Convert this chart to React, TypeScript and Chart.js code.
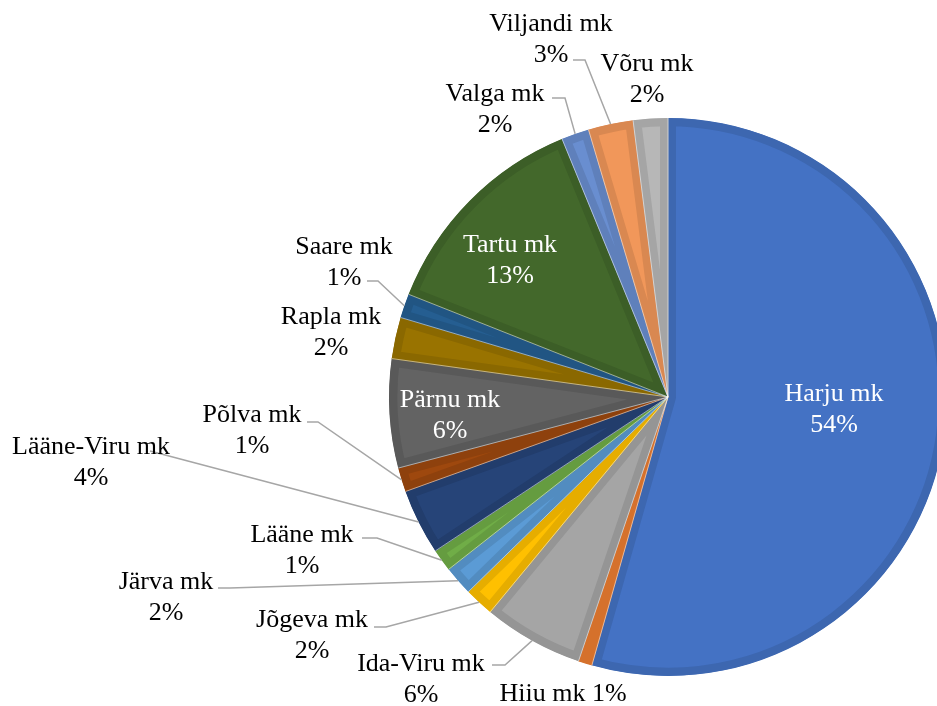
import React, { useEffect, useRef } from 'react';
import { Chart, registerables } from 'chart.js';

Chart.register(...registerables);

// ---- data ----
const categories = [
  'Harju mk', 'Hiiu mk', 'Ida-Viru mk', 'Jõgeva mk', 'Järva mk', 'Lääne mk',
  'Lääne-Viru mk', 'Põlva mk', 'Pärnu mk', 'Rapla mk', 'Saare mk', 'Tartu mk',
  'Valga mk', 'Viljandi mk', 'Võru mk',
];
const shares = [54.4, 0.8, 5.8, 1.7, 1.7, 1.3, 3.8, 1.4, 6.3, 2.4, 1.4, 12.8, 1.6, 2.6, 2.0];

// ---- styles ----
const fills = [
  '#4472C4', '#ED7D31', '#A5A5A5', '#FFC000', '#5B9BD5', '#70AD47', '#264478',
  '#9E480E', '#636363', '#997300', '#255E91', '#43682B', '#698ED0', '#F1975A', '#B7B7B7',
];

function darken(hex: string, f: number): string {
  const n = parseInt(hex.slice(1), 16);
  const r = Math.round(((n >> 16) & 255) * f);
  const g = Math.round(((n >> 8) & 255) * f);
  const b = Math.round((n & 255) * f);
  return `rgb(${r},${g},${b})`;
}
const borders = fills.map((c) => darken(c, 0.9));

// label placement (pixel positions of text; y = cap-centre of first line)
// lead: [startX, startY, elbowX] for leader lines
type Lay = { x: number; y: number; inside?: boolean; single?: boolean; lead?: number[] };
const labelLayout: Lay[] = [
  { x: 834, y: 392, inside: true },
  { x: 563, y: 692, single: true },
  { x: 421, y: 662, lead: [492, 665, 505] },
  { x: 312, y: 618, lead: [374, 627, 386] },
  { x: 166, y: 580, lead: [218, 588, 230] },
  { x: 302, y: 533, lead: [362, 538, 377] },
  { x: 91, y: 445, lead: [150, 451, 150] },
  { x: 252, y: 413, lead: [307, 422, 318] },
  { x: 450, y: 398, inside: true },
  { x: 331, y: 315 },
  { x: 344, y: 245, lead: [367, 281, 378] },
  { x: 510, y: 243, inside: true },
  { x: 495, y: 92, lead: [552, 98, 565] },
  { x: 551, y: 22, lead: [573, 60, 585] },
  { x: 647, y: 62 },
];

const FONT_SIZE = 26;
const LINE_GAP = 31;
const CAP_HALF = FONT_SIZE * 0.33;

const labelPlugin = {
  id: 'sliceLabels',
  afterDatasetsDraw(chart: any) {
    const ctx: CanvasRenderingContext2D = chart.ctx;
    const meta = chart.getDatasetMeta(0);
    const total = shares.reduce((a, b) => a + b, 0);
    ctx.save();
    // thin light separators between slices
    meta.data.forEach((arc: any) => {
      const { x, y, startAngle, outerRadius } = arc;
      ctx.beginPath();
      ctx.moveTo(x, y);
      ctx.lineTo(x + outerRadius * Math.cos(startAngle), y + outerRadius * Math.sin(startAngle));
      ctx.strokeStyle = 'rgba(255,255,255,0.5)';
      ctx.lineWidth = 1;
      ctx.stroke();
    });
    // leader lines
    meta.data.forEach((arc: any, i: number) => {
      const lay = labelLayout[i];
      if (!lay.lead) return;
      const { x, y, startAngle, endAngle, outerRadius } = arc;
      const mid = (startAngle + endAngle) / 2;
      const ex = x + outerRadius * Math.cos(mid);
      const ey = y + outerRadius * Math.sin(mid);
      const [sx, sy, elx] = lay.lead;
      ctx.beginPath();
      ctx.moveTo(sx, sy);
      ctx.lineTo(elx, sy);
      ctx.lineTo(ex, ey);
      ctx.strokeStyle = '#A6A6A6';
      ctx.lineWidth = 1.5;
      ctx.stroke();
    });
    // texts
    ctx.font = `${FONT_SIZE}px "Liberation Serif", "Times New Roman", serif`;
    ctx.textAlign = 'center';
    ctx.textBaseline = 'alphabetic';
    categories.forEach((name, i) => {
      const lay = labelLayout[i];
      const pct = `${Math.round((shares[i] / total) * 100)}%`;
      ctx.fillStyle = lay.inside ? '#FFFFFF' : '#000000';
      if (lay.single) {
        ctx.fillText(`${name} ${pct}`, lay.x, lay.y + CAP_HALF);
      } else {
        ctx.fillText(name, lay.x, lay.y + CAP_HALF);
        ctx.fillText(pct, lay.x, lay.y + LINE_GAP + CAP_HALF);
      }
    });
    ctx.restore();
  },
};

export default function App() {
  const ref = useRef<HTMLCanvasElement | null>(null);
  useEffect(() => {
    if (!ref.current) return;
    const chart = new Chart(ref.current, {
      type: 'pie',
      data: {
        labels: categories,
        datasets: [
          {
            data: shares,
            backgroundColor: fills,
            borderColor: borders,
            borderWidth: 8,
            borderAlign: 'inner',
            radius: 279,
          } as any,
        ],
      },
      options: {
        responsive: false,
        animation: false,
        devicePixelRatio: 1,
        layout: { padding: { left: 389, top: 118, right: 13, bottom: 30 } },
        plugins: { legend: { display: false }, tooltip: { enabled: false } },
        events: [],
      },
      plugins: [labelPlugin],
    });
    return () => chart.destroy();
  }, []);
  return (
    <div style={{ position: 'absolute', left: 0, top: 0, width: 937, height: 706, overflow: 'hidden', background: '#fff' }}>
      <canvas ref={ref} width={960} height={706} style={{ width: 960, height: 706, display: 'block' }} />
    </div>
  );
}
